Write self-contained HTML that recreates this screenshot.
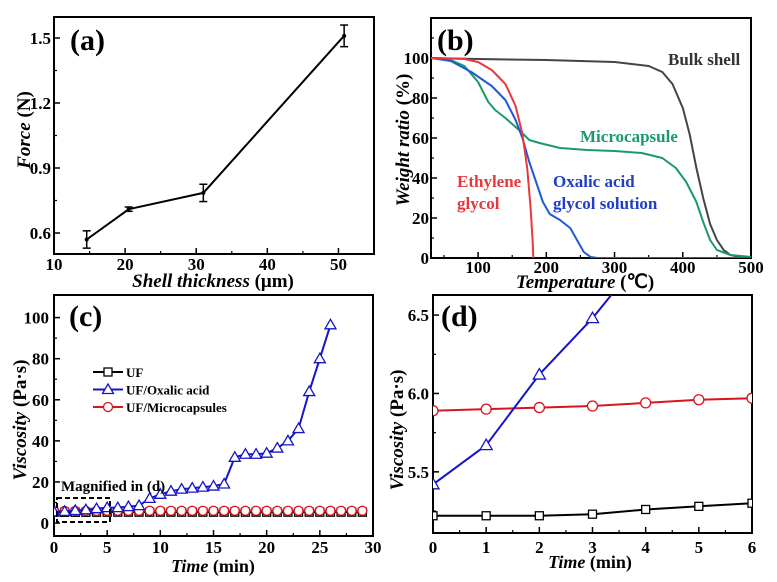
<!DOCTYPE html>
<html><head><meta charset="utf-8"><style>
html,body{margin:0;padding:0;background:#fff;}
svg{display:block;font-family:"Liberation Serif",serif;font-weight:bold;}
</style></head><body>
<svg id="fig" width="777" height="582" viewBox="0 0 777 582" xmlns="http://www.w3.org/2000/svg"></svg>
<script>
// ---------- data (a) ----------
const aThickness = [14.6, 20.5, 31, 50.8];
const aForce = [0.57, 0.71, 0.785, 1.51];
const aErr = [0.04, 0.01, 0.04, 0.05];
const aXTicks = [10, 20, 30, 40, 50];
const aYTicks = [0.6, 0.9, 1.2, 1.5];
// ---------- data (b) ----------
const bBulkT = [31,100,200,300,350,370,385,400,410,420,430,440,450,460,470,480,500];
const bBulkW = [100,99.5,99,98,96,93,87,75,62,45,30,17,9,4,1.5,0.8,0.5];
const bMicroT = [31,60,80,100,115,125,140,160,175,190,220,260,300,340,370,390,405,420,430,440,450,470,500];
const bMicroW = [100,99,96,88,78,74,70,64,59,57.5,55,54,53.5,52.5,50,45,38,28,18,9,4,1.5,0.5];
const bEthT = [31,80,100,120,140,155,165,172,177,180,181];
const bEthW = [100,99.5,98,94,87,76,62,45,25,8,0];
const bOxT = [31,60,90,120,140,155,165,175,185,195,205,220,235,245,255,265,275,500];
const bOxW = [100,98.5,93,86,79,69,60,48,38,28,22,19,15,9,3,0.5,0,0];
const bXTicks = [100,200,300,400,500];
const bYTicks = [0,20,40,60,80,100];
// ---------- data (c) ----------
const cUFTime = [0,1,2,3,4,5,6,7,8,9,10,11,12,13,14,15,16,17,18,19,20,21,22,23,24,25,26,27,28,29];
const cUF = [5.22,5.22,5.22,5.23,5.26,5.28,5.30,5.3,5.3,5.3,5.3,5.3,5.3,5.3,5.3,5.3,5.3,5.3,5.3,5.3,5.3,5.3,5.3,5.3,5.3,5.3,5.3,5.3,5.3,5.3];
const cOxTime = [0,1,2,3,4,5,6,7,8,9,10,11,12,13,14,15,16,17,18,19,20,21,22,23,24,25,26];
const cOx = [5.42,5.67,6.12,6.48,7,7.5,7.5,8,8.5,12,14,15.5,16.5,17,17.5,18,19,32,33.5,33.5,34,36.5,40,46,64,80,96.5];
const cMicTime = [0,1,2,3,4,5,6,7,8,9,10,11,12,13,14,15,16,17,18,19,20,21,22,23,24,25,26,27,28,29];
const cMic = [5.89,5.90,5.91,5.92,5.94,5.96,5.97,6,6,6,6,6,6,6,6,6,6,6,6,6,6,6,6,6,6,6,6,6,6,6];
const cXTicks = [0,5,10,15,20,25,30];
const cYTicks = [0,20,40,60,80,100];
// ---------- data (d) ----------
const dTime = [0,1,2,3,4,5,6];
const dUF = [5.22,5.22,5.22,5.23,5.26,5.28,5.30];
const dOx = [5.42,5.67,6.12,6.48,6.9,7.5,7.5];
const dMic = [5.89,5.90,5.91,5.92,5.94,5.96,5.97];
const dXTicks = [0,1,2,3,4,5,6];
const dYTicks = [5.5,6.0,6.5];

const NS = "http://www.w3.org/2000/svg";
const svg = document.getElementById('fig');
function mk(tag, attrs, name, parent) {
  const el = document.createElementNS(NS, tag);
  for (const k in attrs) el.setAttribute(k, attrs[k]);
  
  
  (parent || svg).appendChild(el);
  return el;
}
function txt(x, y, s, size, name, extra) {
  const t = mk('text', Object.assign({x: x, y: y, 'font-size': size}, extra || {}), name);
  t.textContent = s;
  return t;
}
function scale(d0, d1, r0, r1) { return v => r0 + (v - d0) / (d1 - d0) * (r1 - r0); }

function panel(id, L, R, T, B, xd, yd, xt, yt, xMinor, yMinor, xfmt, yfmt, xLabY, yLabX) {
  const g = mk('g', {}, 'panel-' + id);
  const X = scale(xd[0], xd[1], L, R), Y = scale(yd[0], yd[1], B, T);
  const clipId = 'clip-' + id;
  const cp = mk('clipPath', {id: clipId}, 'clip-' + id, g);
  mk('rect', {x: L, y: T, width: R - L, height: B - T}, 'clip-rect', cp);
  xt.forEach(v => {
    mk('line', {x1: X(v), x2: X(v), y1: B, y2: B - 6, stroke: '#000', 'stroke-width': 1.5}, 'x-tick', g);
    txt(X(v), xLabY, xfmt(v), 17, 'x-tick-label', {'text-anchor': 'middle'});
  });
  xMinor.forEach(v => mk('line', {x1: X(v), x2: X(v), y1: B, y2: B - 3, stroke: '#000', 'stroke-width': 1.2}, 'x-minor-tick', g));
  yt.forEach(v => {
    mk('line', {x1: L, x2: L + 6, y1: Y(v), y2: Y(v), stroke: '#000', 'stroke-width': 1.5}, 'y-tick', g);
    txt(yLabX, Y(v) + 6, yfmt(v), 17, 'y-tick-label', {'text-anchor': 'end'});
  });
  yMinor.forEach(v => mk('line', {x1: L, x2: L + 3, y1: Y(v), y2: Y(v), stroke: '#000', 'stroke-width': 1.2}, 'y-minor-tick', g));
  mk('rect', {x: L, y: T, width: R - L, height: B - T, fill: 'none', stroke: '#000', 'stroke-width': 2}, 'plot-frame', g);
  const pg = mk('g', {'clip-path': 'url(#' + clipId + ')'}, 'plot-area-' + id, g);
  return {X, Y, g: pg};
}
function poly(p, xs, ys, color, w, name) {
  const pts = xs.map((x, i) => p.X(x).toFixed(1) + ',' + p.Y(ys[i]).toFixed(1)).join(' ');
  return mk('polyline', {points: pts, fill: 'none', stroke: color, 'stroke-width': w, 'stroke-linejoin': 'round'}, name, p.g);
}
function markers(p, xs, ys, color, kind, r, name) {
  xs.forEach((x, i) => {
    const cx = p.X(x), cy = p.Y(ys[i]);
    if (kind === 'sq') mk('rect', {x: cx - r, y: cy - r, width: 2 * r, height: 2 * r, fill: '#fff', stroke: color, 'stroke-width': 1.3}, name, p.g);
    else if (kind === 'ci') mk('circle', {cx: cx, cy: cy, r: r, fill: '#fff', stroke: color, 'stroke-width': 1.3}, name, p.g);
    else mk('polygon', {points: `${cx},${cy - r * 1.1} ${cx - r * 1.1},${cy + r * 0.8} ${cx + r * 1.1},${cy + r * 0.8}`, fill: '#fff', stroke: color, 'stroke-width': 1.3}, name, p.g);
  });
}
const range = (a, b, s) => { const o = []; for (let v = a; v <= b + 1e-9; v += s) o.push(+v.toFixed(3)); return o; };

// ---------- panel a ----------
const pa = panel('a', 54, 374, 17, 254, [10, 55], [0.503, 1.597], aXTicks, aYTicks,
  range(15, 55, 10), range(0.75, 1.35, 0.3), v => String(v), v => v.toFixed(1), 270, 51);
poly(pa, aThickness, aForce, '#000', 2, 'force-line');
aThickness.forEach((x, i) => {
  const cx = pa.X(x), y1 = pa.Y(aForce[i] - aErr[i]), y2 = pa.Y(aForce[i] + aErr[i]);
  mk('line', {x1: cx, x2: cx, y1: y1, y2: y2, stroke: '#000', 'stroke-width': 1.5}, 'error-bar', pa.g);
  mk('line', {x1: cx - 4, x2: cx + 4, y1: y1, y2: y1, stroke: '#000', 'stroke-width': 1.5}, 'error-cap', pa.g);
  mk('line', {x1: cx - 4, x2: cx + 4, y1: y2, y2: y2, stroke: '#000', 'stroke-width': 1.5}, 'error-cap', pa.g);
  mk('circle', {cx: cx, cy: pa.Y(aForce[i]), r: 2, fill: '#000'}, 'force-point', pa.g);
});
txt(70, 50, '(a)', 30, 'panel-label-a');
const atx = txt(213, 287, '', 19, 'x-axis-title-a', {'text-anchor': 'middle'});
atx.innerHTML = '<tspan font-style="italic">Shell thickness</tspan> (μm)';
const aty = txt(0, 0, '', 19, 'y-axis-title-a', {'text-anchor': 'middle', transform: 'translate(30,130) rotate(-90)'});
aty.innerHTML = '<tspan font-style="italic">Force</tspan> (N)';

// ---------- panel b ----------
const pb = panel('b', 431, 751, 18, 258, [31, 500], [0, 120], bXTicks, bYTicks,
  range(50, 450, 100), range(10, 110, 20), v => String(v), v => String(v), 273, 429);
poly(pb, bBulkT, bBulkW, '#444', 2, 'bulk-shell-curve');
poly(pb, bMicroT, bMicroW, '#1a9a68', 2, 'microcapsule-curve');
poly(pb, bOxT, bOxW, '#1f5ad6', 2, 'oxalic-acid-curve');
poly(pb, bEthT, bEthW, '#e8383c', 2, 'ethylene-glycol-curve');
txt(437, 50, '(b)', 30, 'panel-label-b');
txt(668, 65, 'Bulk shell', 17, 'bulk-shell-label', {fill: '#333'});
txt(580, 142, 'Microcapsule', 17, 'microcapsule-label', {fill: '#1a9a68'});
txt(457, 187, 'Ethylene', 17, 'ethylene-label', {fill: '#e8383c'});
txt(457, 209, 'glycol', 17, 'glycol-label', {fill: '#e8383c'});
txt(553, 187, 'Oxalic acid', 17, 'oxalic-label', {fill: '#1f3fc8'});
txt(553, 209, 'glycol solution', 17, 'oxalic-solution-label', {fill: '#1f3fc8'});
const btx = txt(585, 288, '', 19, 'x-axis-title-b', {'text-anchor': 'middle'});
btx.innerHTML = '<tspan font-style="italic">Temperature</tspan> (℃)';
const bty = txt(0, 0, '', 19, 'y-axis-title-b', {'text-anchor': 'middle', transform: 'translate(409,140) rotate(-90)'});
bty.innerHTML = '<tspan font-style="italic">Weight ratio</tspan> (%)';

// ---------- panel c ----------
const pc = panel('c', 54, 373, 295, 536, [0, 30], [-6.3, 111], cXTicks, cYTicks,
  range(2.5, 27.5, 5), range(10, 90, 20), v => String(v), v => String(v), 553, 49);
poly(pc, cUFTime, cUF, '#000', 2, 'uf-line');
markers(pc, cUFTime, cUF, '#000', 'sq', 4, 'uf-marker');
poly(pc, cMicTime, cMic, '#d8141c', 2, 'uf-microcapsules-line');
markers(pc, cMicTime, cMic, '#d8141c', 'ci', 4.5, 'uf-microcapsules-marker');
poly(pc, cOxTime, cOx, '#1414c8', 2, 'uf-oxalic-line');
markers(pc, cOxTime, cOx, '#1414c8', 'tri', 5, 'uf-oxalic-marker');
txt(69, 326, '(c)', 30, 'panel-label-c');
mk('rect', {x: 57, y: 498, width: 53, height: 24, fill: 'none', stroke: '#000', 'stroke-width': 2, 'stroke-dasharray': '5,3'}, 'magnified-box');
txt(61, 491, 'Magnified in (d)', 15, 'magnified-label');
const leg = [['UF', '#000', 'sq'], ['UF/Oxalic acid', '#1414c8', 'tri'], ['UF/Microcapsules', '#d8141c', 'ci']];
leg.forEach((e, i) => {
  const y = 372 + i * 17.5;
  mk('line', {x1: 93, x2: 123, y1: y, y2: y, stroke: e[1], 'stroke-width': 2}, 'legend-line');
  const cx = 108;
  if (e[2] === 'sq') mk('rect', {x: cx - 4, y: y - 4, width: 8, height: 8, fill: '#fff', stroke: e[1], 'stroke-width': 1.3}, 'legend-marker');
  else if (e[2] === 'ci') mk('circle', {cx: cx, cy: y, r: 4.5, fill: '#fff', stroke: e[1], 'stroke-width': 1.3}, 'legend-marker');
  else mk('polygon', {points: `${cx},${y - 5.5} ${cx - 5.5},${y + 4} ${cx + 5.5},${y + 4}`, fill: '#fff', stroke: e[1], 'stroke-width': 1.3}, 'legend-marker');
  txt(126, y + 5, e[0], 13, 'legend-entry');
});
const ctx = txt(213, 572, '', 18, 'x-axis-title-c', {'text-anchor': 'middle'});
ctx.innerHTML = '<tspan font-style="italic">Time</tspan> (min)';
const cty = txt(0, 0, '', 19, 'y-axis-title-c', {'text-anchor': 'middle', transform: 'translate(26,420) rotate(-90)'});
cty.innerHTML = '<tspan font-style="italic">Viscosity</tspan> (Pa·s)';

// ---------- panel d ----------
const pd = panel('d', 433, 752, 295, 533, [0, 6], [5.11, 6.628], dXTicks, dYTicks,
  range(0.5, 5.5, 1), range(5.25, 6.25, 0.5), v => String(v), v => v.toFixed(1), 553, 429);
poly(pd, dTime, dUF, '#000', 2, 'd-uf-line');
markers(pd, dTime, dUF, '#000', 'sq', 4, 'd-uf-marker');
poly(pd, dTime, dMic, '#d8141c', 2, 'd-microcapsules-line');
markers(pd, dTime, dMic, '#d8141c', 'ci', 5, 'd-microcapsules-marker');
poly(pd, dTime, dOx, '#1414c8', 2, 'd-oxalic-line');
markers(pd, dTime, dOx, '#1414c8', 'tri', 5.5, 'd-oxalic-marker');
txt(441, 326, '(d)', 30, 'panel-label-d');
const dtx = txt(590, 568, '', 18, 'x-axis-title-d', {'text-anchor': 'middle'});
dtx.innerHTML = '<tspan font-style="italic">Time</tspan> (min)';
const dty = txt(0, 0, '', 19, 'y-axis-title-d', {'text-anchor': 'middle', transform: 'translate(403,430) rotate(-90)'});
dty.innerHTML = '<tspan font-style="italic">Viscosity</tspan> (Pa·s)';
</script>
</body></html>
